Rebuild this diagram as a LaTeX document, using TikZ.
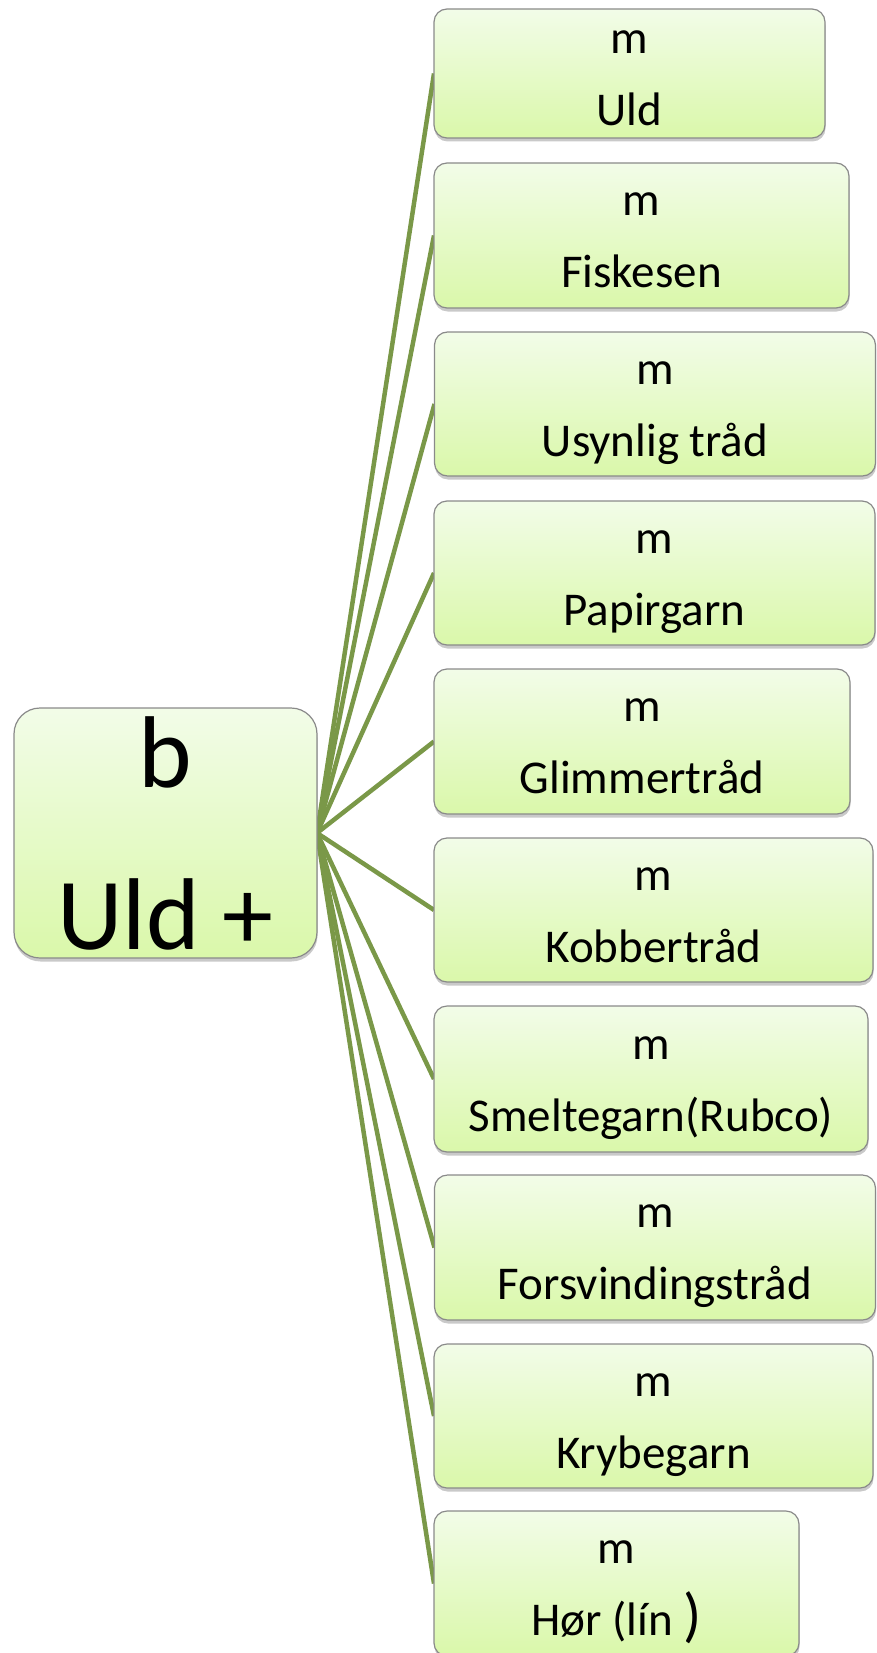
\documentclass[tikz,border=0pt]{standalone}
\usepackage{fontspec}
\setmainfont{Carlito}
\usetikzlibrary{shadows,backgrounds}
\definecolor{linkgreen}{HTML}{7A9848}
\definecolor{boxtop}{HTML}{F2FCE8}
\definecolor{boxbot}{HTML}{DAF8AA}
\definecolor{boxedge}{HTML}{8A8A8A}
\tikzset{
  boxbase/.style={draw=boxedge, line width=1.2pt, top color=boxtop, bottom color=boxbot,
    inner sep=0pt, outer sep=0pt,
    drop shadow={shadow xshift=0.5pt, shadow yshift=-3.5pt, opacity=0.3, fill=black!70}},
  rootbox/.style={boxbase, rounded corners=26pt, minimum width=303pt, minimum height=250pt},
  childbox/.style={boxbase, rounded corners=13pt},
  ctext/.style={anchor=base, inner sep=0pt, font=\fontsize{47}{56}\selectfont},
  rtext/.style={anchor=base, inner sep=0pt, font=\fontsize{102}{120}\selectfont},
  link/.style={draw=linkgreen, line width=4.5pt}
}
\newcommand{\child}[6]{%
  \node[childbox, minimum width=#3pt, minimum height=#4pt] (#1) at (#2) {};
  \node[ctext] (#1m) at ([yshift=20pt]#1.center) {#5};
  \node[ctext] (#1t) at ([yshift=-52pt]#1.center) {#6};
}
\begin{document}
\begin{tikzpicture}[x=1pt,y=-1pt]
\useasboundingbox (0,0) rectangle (877,1653);
\node[rootbox] (root) at (165.5,833) {};
\node[rtext] (rootb) at ([yshift=46pt]root.center) {b};
\node[rtext] (rootu) at ([yshift=-116pt]root.center) {Uld +};
\child{c1}{629.5,73.5}{391}{129}{m}{Uld}
\child{c2}{641.5,235.5}{415}{145}{m}{Fiskesen}
\child{c3}{655,404}{441}{144}{m}{Usynlig tråd}
\child{c4}{654.5,573}{441}{144}{m}{Papirgarn}
\child{c5}{642,741.5}{416}{145}{m}{Glimmertråd}
\child{c6}{653.5,910}{439}{144}{m}{Kobbertråd}
\child{c7}{651,1079}{434}{146}{m}{Smeltegarn(Rubco)}
\child{c8}{655,1247.5}{441}{145}{m}{Forsvindingstråd}
\child{c9}{653.5,1416}{439}{144}{m}{Krybegarn}
\child{c10}{616.5,1583.5}{365}{145}{m}{Hør (lín {\fontsize{60}{60}\selectfont)}}
\begin{scope}[on background layer]
\foreach \c in {c1,c2,c3,c4,c5,c6,c7,c8,c9,c10}
  \draw[link] (root.east) -- (\c.west);
\end{scope}
\end{tikzpicture}
\end{document}
